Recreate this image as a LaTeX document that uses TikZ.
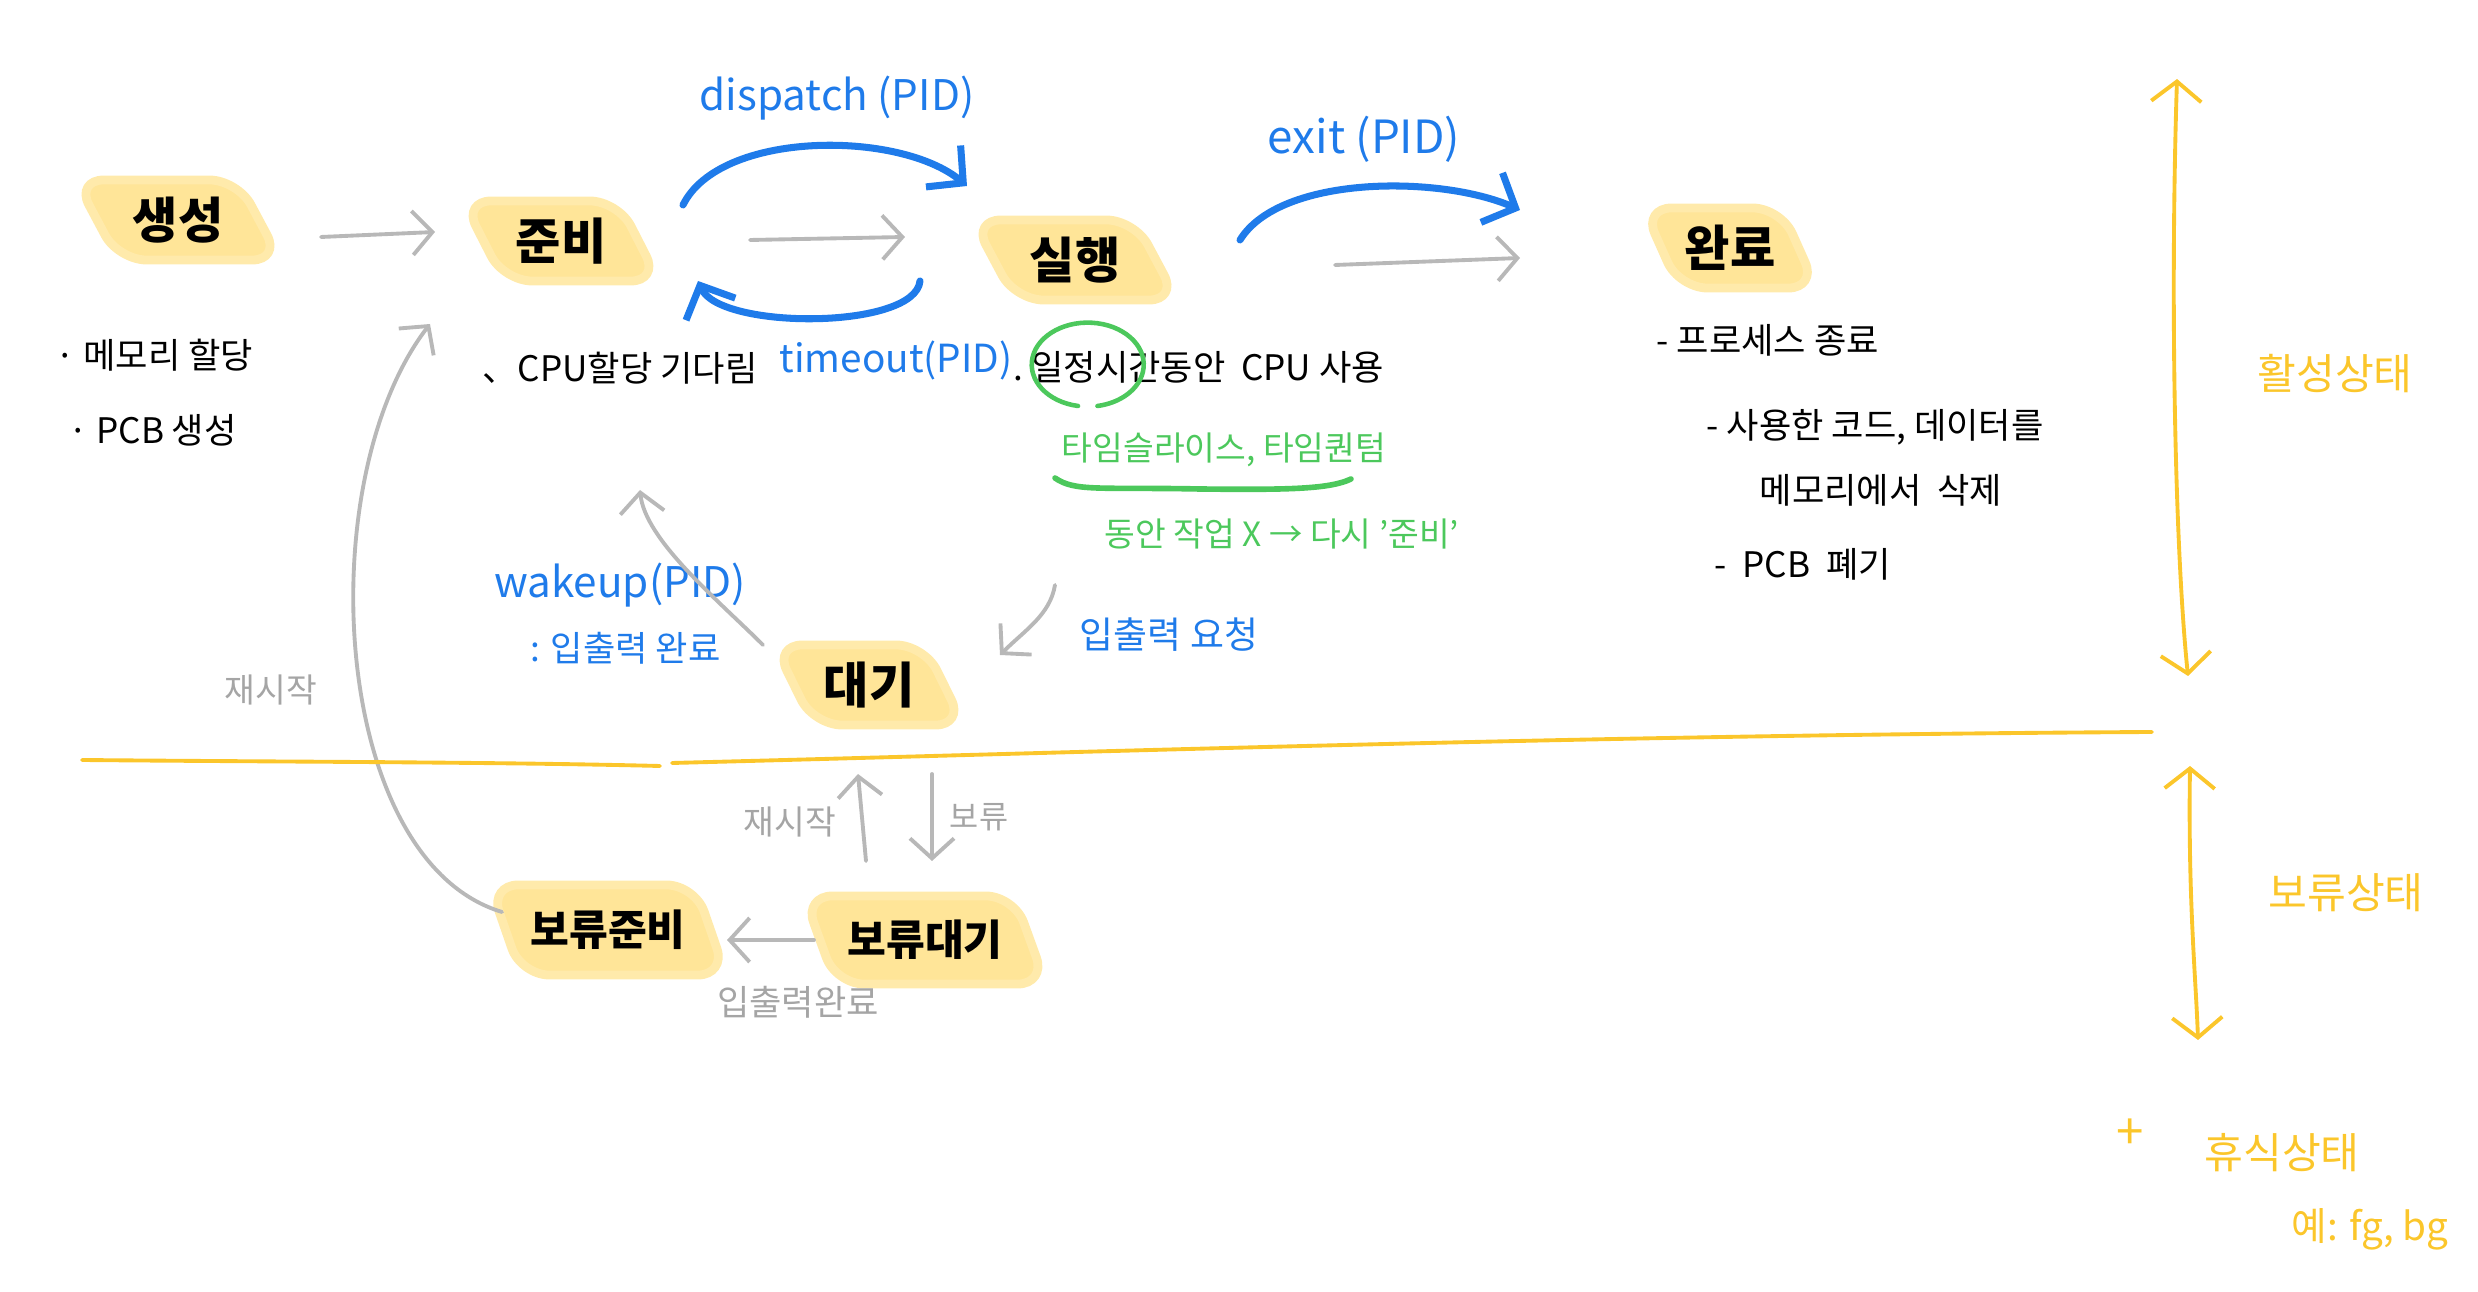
\documentclass[tikz,border=0pt]{standalone}
\usepackage{fontspec}
\setmainfont{Noto Sans CJK KR}
\usetikzlibrary{arrows.meta, shapes.geometric}
\definecolor{hlYellow}{HTML}{FFE598}
\definecolor{penBlue}{HTML}{1F7BEA}
\definecolor{penGreen}{HTML}{4CC85C}
\definecolor{penGray}{HTML}{B8B8B8}
\definecolor{penYellow}{HTML}{FBC62B}

\tikzset{
  state/.style={trapezium, trapezium left angle=125, trapezium right angle=55,
    trapezium stretches=true, fill=hlYellow, draw=hlYellow!82, line width=2.5pt,
    rounded corners=8pt, minimum width=#1, minimum height=0.8cm, inner sep=0pt,
    font=\fontsize{14}{16}\selectfont\bfseries},
  note/.style={anchor=west, inner sep=0pt, font=\fontsize{10}{12}\selectfont},
  bluetext/.style={text=penBlue, inner sep=0pt, font=\fontsize{11}{13}\selectfont},
  greentext/.style={text=penGreen, inner sep=0pt, font=\fontsize{9.5}{11}\selectfont},
  graytext/.style={text=penGray!90!black, inner sep=0pt, font=\fontsize{9.5}{11}\selectfont},
  yellowtext/.style={text=penYellow, inner sep=0pt, font=\fontsize{12}{14}\selectfont},
  grayarrow/.style={draw=penGray, line width=1.1pt, line cap=round,
    -{Straight Barb[length=2mm, width=4.4mm]}},
  bluearrow/.style={draw=penBlue, line width=2pt, line cap=round,
    -{Straight Barb[length=2.6mm, width=5.4mm]}},
  yellowarrow/.style={draw=penYellow, line width=1.1pt, line cap=round,
    {Straight Barb[length=2mm, width=5mm]}-{Straight Barb[length=2mm, width=5mm]}}
}

\begin{document}
\begin{tikzpicture}[x=0.01cm, y=-0.01cm]
  \useasboundingbox (0,0) rectangle (2478,1292);

  % states
  \node[state=2.05cm] (create) at (178,220) {생성};
  \node[state=1.96cm] (ready) at (561,241) {준비};
  \node[state=2.05cm] (run) at (1075,260) {실행};
  \node[state=1.74cm] (done) at (1730,248) {완료};
  \node[state=1.90cm] (wait) at (869,685) {대기};
  \node[state=2.37cm, minimum height=0.9cm, font=\fontsize{12}{14}\selectfont\bfseries]
    (sready) at (608,930) {보류준비};
  \node[state=2.43cm, minimum height=0.88cm, font=\fontsize{12}{14}\selectfont\bfseries]
    (swait) at (925,940) {보류대기};

  % notes
  \foreach \n/\x/\y/\t in
    {memNote/55/355/{·\ 메모리 할당},
     pcbNote/68/430/{·\ PCB 생성},
     cpuWait/482/368/{、CPU할당 기다림},
     cpuUse/1013/367/{.\ 일정시간동안 \ CPU 사용},
     endNote/1656/340/{-\ 프로세스 종료},
     freeNote/1706/427/{-\ 사용한 코드, 데이터를},
     freeNoteB/1759/490/{메모리에서 \ 삭제},
     pcbFree/1714/564/{-\ \ PCB \ 폐기}}
  {
    \node[note] (\n) at (\x,\y) {\t};
  }

  % calls
  \node[bluetext, font=\fontsize{12}{14}\selectfont] (dispatchLbl) at (837,98) {dispatch (PID)};
  \node[bluetext, font=\fontsize{13}{15}\selectfont] (exitLbl) at (1364,139) {exit (PID)};
  \node[bluetext, anchor=west] (timeoutLbl) at (779,360) {timeout(PID)};
  \node[bluetext, font=\fontsize{12}{14}\selectfont] (wakeupLbl) at (620,585) {wakeup(PID)};
  \node[bluetext, anchor=west, font=\fontsize{10}{12}\selectfont] (ioDoneLbl) at (530,648) {: 입출력 완료};
  \node[bluetext, font=\fontsize{10.5}{12}\selectfont] (ioReqLbl) at (1169,635) {입출력 요청};

  % time slice
  \draw[penGreen, line width=1.3pt, line cap=round] (1078,406)
    arc[start angle=100, end angle=440, x radius=56, y radius=42];
  \node[greentext] (sliceLbl) at (1224,450) {타임슬라이스, 타임퀀텀};
  \draw[penGreen, line width=1.6pt, line cap=round]
    (1055,478) .. controls (1075,492) and (1100,487) .. (1200,489)
    .. controls (1290,490) and (1330,489) .. (1351,479);
  \node[greentext] (noWorkLbl) at (1282,534) {동안 작업 X → 다시 '준비'};

  % transitions
  \draw[grayarrow] ([shift={(143,17)}]create.center) -- ([shift={(-126,-9)}]ready.center);
  \draw[grayarrow] ([shift={(189,-1)}]ready.center) -- ([shift={(-170,-23)}]run.center);
  \draw[grayarrow] ([shift={(260,5)}]run.center) -- ([shift={(-210,10)}]done.center);
  \draw[bluearrow] ([shift={(122,-36)}]ready.center) .. controls +(37,-75) and +(-67,-56)
    .. ([shift={(-108,-74)}]run.center);
  \draw[bluearrow] ([shift={(-155,21)}]run.center) .. controls +(-5,49) and +(22,49)
    .. ([shift={(137,40)}]ready.center);
  \draw[bluearrow] ([shift={(165,-20)}]run.center) .. controls +(40,-65) and +(-80,-35)
    .. ([shift={(-210,-38)}]done.center);
  \draw[grayarrow] ([shift={(-20,325)}]run.center) .. controls +(-5,30) and +(25,-25)
    .. ([shift={(131,-30)}]wait.center);
  \draw[grayarrow] ([shift={(-106,-40)}]wait.center) .. controls +(-45,-45) and +(5,50)
    .. ([shift={(79,249)}]ready.center);
  \draw[grayarrow] ([shift={(-106,-18)}]sready.center) .. controls +(-172,-52) and +(-120,156)
    .. ([shift={(-131,83)}]ready.center);
  \draw[grayarrow] ([shift={(-111,0)}]swait.center) -- ([shift={(119,10)}]sready.center);
  \draw[grayarrow] ([shift={(-59,-79)}]swait.center) -- ([shift={(-11,89)}]wait.center);
  \draw[grayarrow] ([shift={(63,89)}]wait.center) -- ([shift={(7,-79)}]swait.center);

  \node[graytext] (restartL) at (271,690) {재시작};
  \node[graytext] (restartU) at (790,822) {재시작};
  \node[graytext, font=\fontsize{9}{11}\selectfont] (holdLbl) at (979,817) {보류};
  \node[graytext, font=\fontsize{10}{12}\selectfont] (ioDoneG) at (798,1002) {입출력완료};

  % active / suspended
  \draw[penYellow, line width=1.1pt, line cap=round]
    (82,760) .. controls (300,762) and (500,762) .. (660,766);
  \draw[penYellow, line width=1.1pt, line cap=round]
    (672,763) .. controls (1100,752) and (1600,735) .. (2152,732);
  \coordinate (actTop) at (2177,79);
  \coordinate (actBot) at (2188,676);
  \coordinate (holdTop) at (2190,766);
  \coordinate (holdBot) at (2198,1040);
  \draw[yellowarrow] (actTop) .. controls (2170,300) and (2175,550) .. (actBot);
  \draw[yellowarrow] (holdTop) .. controls (2188,900) and (2196,980) .. (holdBot);
  \node[yellowtext] (activeLbl) at (2335,374) {활성상태};
  \node[yellowtext] (heldLbl) at (2346,893) {보류상태};
  \node[yellowtext, font=\fontsize{14}{16}\selectfont] (plusLbl) at (2130,1134) {+};
  \node[yellowtext] (restLbl) at (2282,1153) {휴식상태};
  \node[yellowtext, font=\fontsize{11}{13}\selectfont] (egLbl) at (2370,1229) {예: fg, bg};
\end{tikzpicture}
\end{document}
